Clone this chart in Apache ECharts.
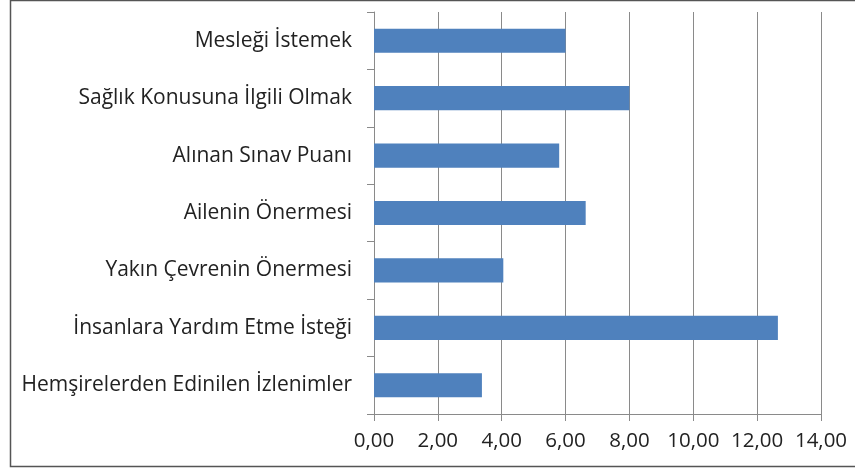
<!DOCTYPE html>
<html><head><meta charset="utf-8">
<script src="https://cdn.jsdelivr.net/npm/echarts@6/dist/echarts.min.js"></script>
<style>html,body{margin:0;padding:0;background:#fff}#c{width:855px;height:470px}</style>
</head><body><div id="c"></div>
<script>
const categories = ["Mesleği İstemek","Sağlık Konusuna İlgili Olmak","Alınan Sınav Puanı","Ailenin Önermesi","Yakın Çevrenin Önermesi","İnsanlara Yardım Etme İsteği","Hemşirelerden Edinilen İzlenimler"];
const values = [6.0, 8.0, 5.8, 6.63, 4.05, 12.65, 3.38];
const xMin = 0, xMax = 14, xStep = 2;

const chart = echarts.init(document.getElementById('c'), null, {renderer:'canvas'});
const font = "'Open Sans', sans-serif";
chart.setOption({
  animation:false,
  backgroundColor:'#fff',
  graphic:[{type:'rect',shape:{x:10.5,y:0.5,width:860,height:466},style:{fill:'none',stroke:'#555',lineWidth:1.5},silent:true}],
  grid:{left:374,right:34,top:12,bottom:56,containLabel:false},
  xAxis:{type:'value',min:xMin,max:xMax,interval:xStep,
    axisLine:{show:true,lineStyle:{color:'#8a8a8a',width:1}},
    axisTick:{show:true,length:7,lineStyle:{color:'#8a8a8a'}},
    splitLine:{show:true,lineStyle:{color:'#8a8a8a',width:1}},
    axisLabel:{margin:17,fontSize:20.5,color:'#222',fontFamily:font,formatter:v=>v.toFixed(2).replace('.',',')}},
  yAxis:{type:'category',data:categories,inverse:true,
    axisLine:{show:true,lineStyle:{color:'#8a8a8a'}},
    axisTick:{show:true,length:7,lineStyle:{color:'#8a8a8a'}},
    axisLabel:{margin:22,fontSize:21,color:'#222',fontFamily:font}},
  series:[{type:'bar',data:values,barWidth:'42%',itemStyle:{color:'#4F81BD'}}]
});
</script></body></html>
